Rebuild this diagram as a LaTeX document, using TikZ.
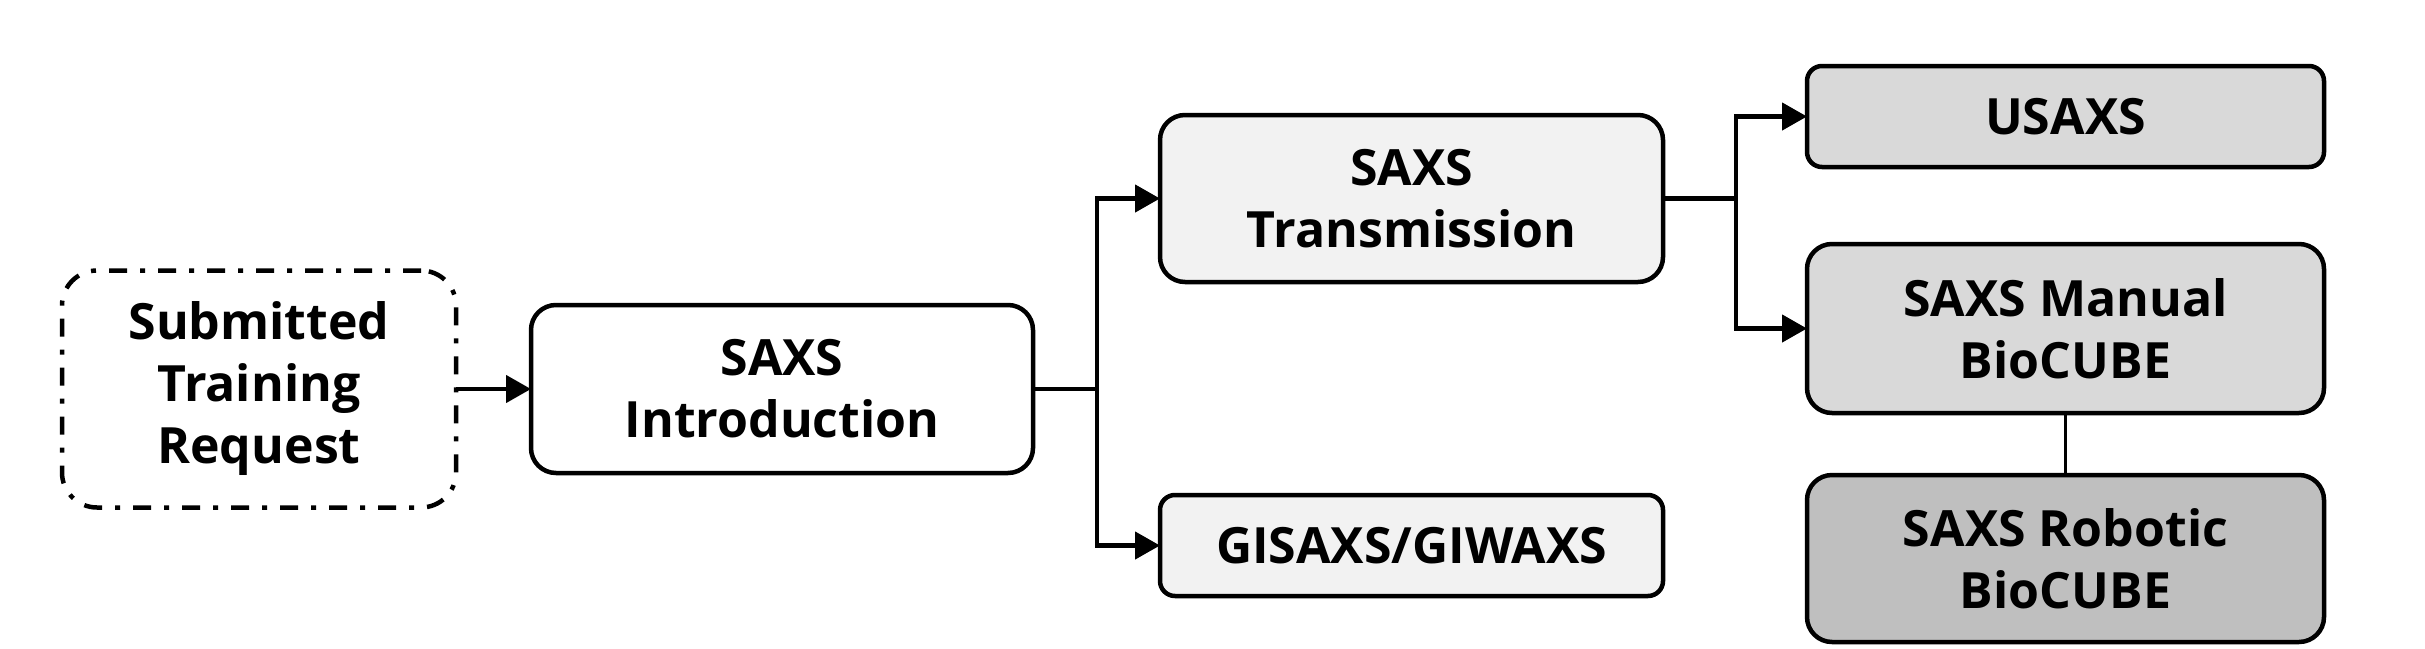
\documentclass[tikz,border=0pt]{standalone}
\usepackage{fontspec}
\setmainfont{Open Sans}
\usetikzlibrary{arrows.meta}
\definecolor{fillA}{HTML}{F2F2F2}
\definecolor{fillB}{HTML}{D9D9D9}
\definecolor{fillC}{HTML}{BFBFBF}
\tikzset{
  box/.style={draw=black, line width=4.5pt, rounded corners=25pt, align=center,
    inner sep=0pt, outer sep=0pt, font=\fontsize{50}{62}\selectfont\bfseries},
  smallbox/.style={box, rounded corners=15pt},
  dashbox/.style={box, rounded corners=35pt, dash pattern=on 18pt off 13pt on 5pt off 13pt},
  arr/.style={line width=4.5pt, -{Triangle[length=25pt,width=27pt]}},
  link/.style={line width=3.2pt}
}
\begin{document}
\begin{tikzpicture}[x=1pt,y=-1pt]
\useasboundingbox (0,0) rectangle (2425,648);
\node[dashbox, minimum width=394pt, minimum height=237pt] (sub) at (259,389) {Submitted\\Training\\Request};
\node[box, fill=white, minimum width=502pt, minimum height=168pt] (intro) at (782,389) {SAXS\\Introduction};
\node[box, fill=fillA, minimum width=503pt, minimum height=167pt] (trans) at (1411.5,198.5) {SAXS\\Transmission};
\node[smallbox, fill=fillA, minimum width=503pt, minimum height=101pt] (gis) at (1411.5,545.5) {GISAXS/GIWAXS};
\node[smallbox, fill=fillB, minimum width=517pt, minimum height=101pt] (usaxs) at (2065.5,116.5) {USAXS};
\node[box, fill=fillB, minimum width=517pt, minimum height=169pt] (manual) at (2065.5,328.5) {SAXS Manual\\BioCUBE};
\node[box, fill=fillC, minimum width=517pt, minimum height=167pt] (robotic) at (2065.5,558.5) {SAXS Robotic\\BioCUBE};
\draw[arr] (sub.east) -- (intro.west);
\draw[arr] (intro.east) -- ++(64,0) |- (trans.west);
\draw[arr] (intro.east) -- ++(64,0) |- (gis.west);
\draw[arr] (trans.east) -- ++(73,0) |- (usaxs.west);
\draw[arr] (trans.east) -- ++(73,0) |- (manual.west);
\draw[link] (manual.south) -- (robotic.north);
\end{tikzpicture}
\end{document}
